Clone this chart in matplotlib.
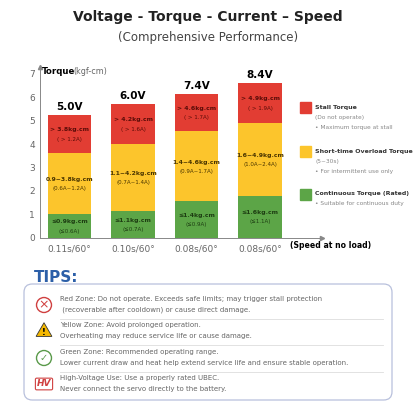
import matplotlib
matplotlib.use("Agg")
import matplotlib.pyplot as plt
from matplotlib.patches import FancyBboxPatch, Rectangle, Circle, RegularPolygon

voltages = ["5.0V", "6.0V", "7.4V", "8.4V"]
speeds = ["0.11s/60°", "0.10s/60°", "0.08s/60°", "0.08s/60°"]
green_top = [1.0, 1.15, 1.55, 1.8]
yellow_top = [3.6, 4.0, 4.55, 4.9]
red_top = [5.25, 5.7, 6.15, 6.6]
green_txt = [("≤0.9kg.cm", "(≤0.6A)"), ("≤1.1kg.cm", "(≤0.7A)"),
             ("≤1.4kg.cm", "(≤0.9A)"), ("≤1.6kg.cm", "(≤1.1A)")]
yellow_txt = [("0.9~3.8kg.cm", "(0.6A~1.2A)"), ("1.1~4.2kg.cm", "(0.7A~1.4A)"),
              ("1.4~4.6kg.cm", "(0.9A~1.7A)"), ("1.6~4.9kg.cm", "(1.0A~2.4A)")]
red_txt = [("> 3.8kg.cm", "( > 1.2A)"), ("> 4.2kg.cm", "( > 1.6A)"),
           ("> 4.6kg.cm", "( > 1.7A)"), ("> 4.9kg.cm", "( > 1.9A)")]
tips = [("Red Zone: Do not operate. Exceeds safe limits; may trigger stall protection",
         " (recoverable after cooldown) or cause direct damage."),
        ("Yellow Zone: Avoid prolonged operation.",
         "Overheating may reduce service life or cause damage."),
        ("Green Zone: Recommended operating range.",
         "Lower current draw and heat help extend service life and ensure stable operation."),
        ("High-Voltage Use: Use a properly rated UBEC.",
         "Never connect the servo directly to the battery.")]

RED, YEL, GRN = "#e23d33", "#fcc52c", "#5ca547"
GREY = "#666666"

fig = plt.figure(figsize=(4.16, 4.16), dpi=100)
fig.text(0.5, 0.95, "Voltage - Torque - Current – Speed", ha="center", fontsize=10, weight="bold", color="#222222")
fig.text(0.5, 0.902, "(Comprehensive Performance)", ha="center", fontsize=8.5, color="#444444")

ax = fig.add_axes([40 / 416, 0.4286, 282 / 416, 0.411])
ax.set_xlim(-0.465, 3.976)
ax.set_ylim(0, 7.3)
x = range(4)
w = 0.68
ax.bar(x, green_top, width=w, color=GRN)
ax.bar(x, [y - g for y, g in zip(yellow_top, green_top)], bottom=green_top, width=w, color=YEL)
ax.bar(x, [r - y for r, y in zip(red_top, yellow_top)], bottom=yellow_top, width=w, color=RED)
for i in x:
    ax.text(i, red_top[i] + 0.12, voltages[i], ha="center", va="bottom", fontsize=7.5, weight="bold")
    for lo, hi, (a, b), col in [(0, green_top[i], green_txt[i], "#1d3d12"),
                                (green_top[i], yellow_top[i], yellow_txt[i], "#4a3500"),
                                (yellow_top[i], red_top[i], red_txt[i], "#5a0c08")]:
        m = (lo + hi) / 2
        ax.text(i, m + 0.18, a, ha="center", va="center", fontsize=4.4, weight="bold", color=col)
        ax.text(i, m - 0.22, b, ha="center", va="center", fontsize=4.0, color=col)
    ax.text(i, -0.3, speeds[i], ha="center", va="top", fontsize=6.5, color=GREY)
ax.set_yticks(range(8))
ax.tick_params(axis="y", length=0, labelsize=6.5, labelcolor=GREY)
ax.set_xticks([])
for s in ["top", "right"]:
    ax.spines[s].set_visible(False)
for s in ["left", "bottom"]:
    ax.spines[s].set_color("#888888")
    ax.spines[s].set_linewidth(0.7)
ax.plot(1, 0, ">", transform=ax.transAxes, clip_on=False, color="#888888", ms=3)
ax.plot(0, 1, "^", transform=ax.transAxes, clip_on=False, color="#888888", ms=3)
fig.text(42 / 416, 1 - 71 / 416, "Torque", fontsize=6.2, weight="bold", va="center")
fig.text(73 / 416, 1 - 71 / 416, "(kgf-cm)", fontsize=5.8, color=GREY, va="center")
fig.text(290 / 416, 1 - 246 / 416, "(Speed at no load)", fontsize=5.6, weight="bold", va="center")

# legend
leg = [(RED, 107, "Stall Torque", ["(Do not operate)", "• Maximum torque at stall"]),
       (YEL, 151, "Short-time Overload Torque", ["(5~30s)", "• For intermittent use only"]),
       (GRN, 194, "Continuous Torque (Rated)", ["• Suitable for continuous duty"])]
for col, py, title, subs in leg:
    fig.patches.append(Rectangle((300 / 416, 1 - (py + 6) / 416), 11 / 416, 11 / 416,
                                 transform=fig.transFigure, color=col))
    fig.text(315 / 416, 1 - py / 416, title, fontsize=4.5, weight="bold", color="#333333", va="center")
    for k, s in enumerate(subs):
        fig.text(315 / 416, 1 - (py + 10 + 11 * k) / 416, s, fontsize=4.2, color="#888888", va="center")

# tips
fig.text(34 / 416, 1 - 277 / 416, "TIPS:", fontsize=11, weight="bold", color="#2c5fa8", va="center")
fig.patches.append(FancyBboxPatch((24 / 416, 1 - 400 / 416), 368 / 416, 116 / 416,
                                  boxstyle="round,pad=0,rounding_size=0.02", transform=fig.transFigure,
                                  fc="white", ec="#b8c0dc", lw=0.9))
rows_y = [305, 331, 358, 384]
for k, (l1, l2) in enumerate(tips):
    yc = 1 - rows_y[k] / 416
    fig.text(60 / 416, yc + 0.014, l1, fontsize=5, color=GREY, va="center")
    fig.text(60 / 416, yc - 0.012, l2, fontsize=5, color=GREY, va="center")
    if k < 3:
        fig.add_artist(plt.Line2D([60 / 416, 383 / 416], [yc - 0.034, yc - 0.034], color="#dddddd", lw=0.6))
ix = 44 / 416
y0 = 1 - rows_y[0] / 416
fig.patches.append(Circle((ix, y0), 0.018, transform=fig.transFigure, fc="none", ec="#d04040", lw=1))
fig.text(ix, y0, "×", ha="center", va="center", fontsize=9, color="#d04040")
y1 = 1 - rows_y[1] / 416
fig.patches.append(RegularPolygon((ix, y1 - 0.002), 3, radius=0.022, transform=fig.transFigure,
                                  fc="#f5b800", ec="#333333", lw=0.6))
fig.text(ix, y1 - 0.004, "!", ha="center", va="center", fontsize=6, weight="bold")
y2 = 1 - rows_y[2] / 416
fig.patches.append(Circle((ix, y2), 0.018, transform=fig.transFigure, fc="none", ec="#5a9a4a", lw=1))
fig.text(ix, y2, "✓", ha="center", va="center", fontsize=7, color="#5a9a4a")
y3 = 1 - rows_y[3] / 416
fig.text(ix, y3, "HV", ha="center", va="center", fontsize=6.5, weight="bold", style="italic", color="#d04040",
         bbox=dict(boxstyle="round,pad=0.15", fc="white", ec="#d04040", lw=0.8))

fig.savefig("out.png", dpi=100)
